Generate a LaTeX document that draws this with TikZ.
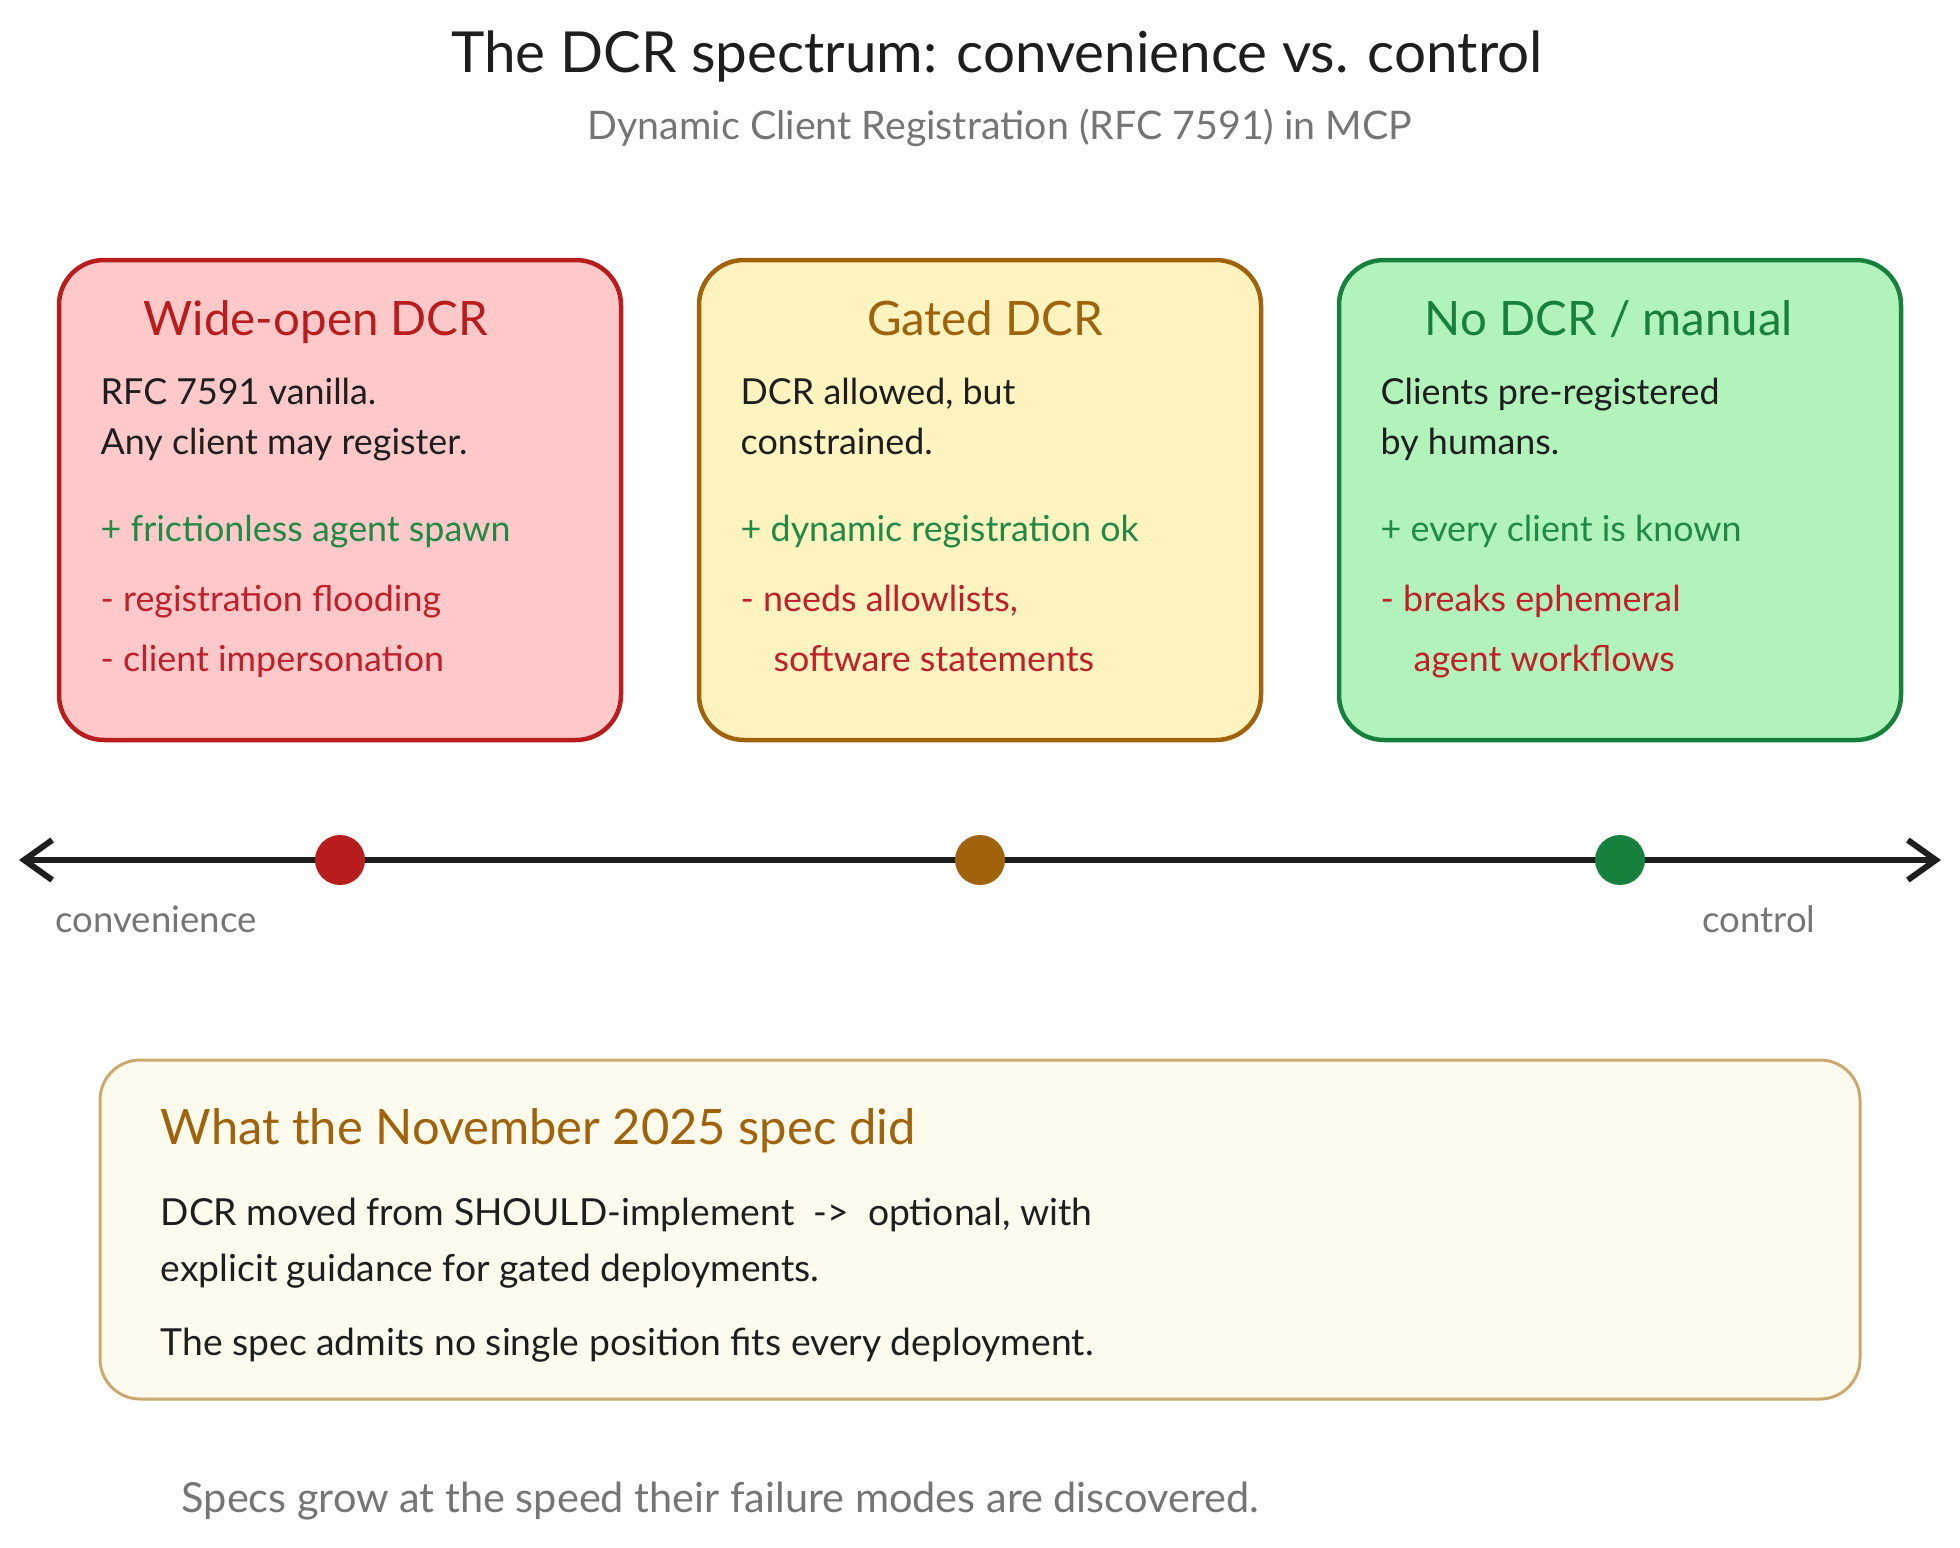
\documentclass[tikz,border=0pt]{standalone}
\usepackage{fontspec}
\setmainfont{Lato}
\usetikzlibrary{arrows.meta,positioning}

\definecolor{inkline}{HTML}{1E1E1E}
\definecolor{redline}{HTML}{B91C1C}
\definecolor{redfill}{HTML}{FFC9C9}
\definecolor{amberline}{HTML}{A0620A}
\definecolor{amberfill}{HTML}{FFF3BF}
\definecolor{greenline}{HTML}{17803D}
\definecolor{greenfill}{HTML}{B2F2BB}
\definecolor{protext}{HTML}{1E8A45}
\definecolor{context}{HTML}{C0202A}
\definecolor{greytext}{HTML}{757575}
\definecolor{noteline}{HTML}{CDA86E}
\definecolor{notefill}{HTML}{FDFBEE}

\tikzstyle{tier} = [rectangle, draw, line width=0.45mm, rounded corners=4.5mm,
minimum width=56.2mm, minimum height=48mm, inner sep=0pt]
\tikzstyle{note} = [rectangle, draw=noteline, fill=notefill, line width=0.3mm, rounded corners=4mm,
minimum width=176mm, minimum height=33.9mm, inner sep=0pt]
\tikzstyle{heading} = [anchor=base, inner sep=0pt, font=\fontsize{13.5}{16}\selectfont]
\tikzstyle{body} = [anchor=base west, inner sep=0pt, text=inkline, font=\fontsize{10.2}{12}\selectfont]
\tikzstyle{pro} = [body, text=protext]
\tikzstyle{con} = [body, text=context]
\tikzstyle{muted} = [inner sep=0pt, text=greytext]
\tikzstyle{dot} = [circle, minimum size=5mm, inner sep=0pt]
\tikzstyle{axis} = [line width=0.6mm, draw=inkline, <->, >={Straight Barb[length=2.8mm,width=4mm]}]

\begin{document}
\begin{tikzpicture}[x=0.1mm, y=-0.1mm]

\useasboundingbox (0,0) rectangle (1960,1548);

% Top
\node[anchor=base, inner sep=0pt, text=inkline, font=\fontsize{16.1}{19}\selectfont](title) at (997,72) {The DCR spectrum: convenience vs. control};
\node[muted, anchor=base, font=\fontsize{11.2}{13}\selectfont](subtitle) at (1000,139) {Dynamic Client Registration (RFC 7591) in MCP};

%Boxes for the three positions
\node[tier, draw=redline, fill=redfill](open) at (340,500) {};
\node[tier, draw=amberline, fill=amberfill](gated) at (980,500) {};
\node[tier, draw=greenline, fill=greenfill](manual) at (1620,500) {};

% Wide-open
\node[heading, text=redline](openhead) at (316,335) {Wide-open DCR};
\node[body](opena) at (100,404) {RFC 7591 vanilla.};
\node[body](openb) at (100,454) {Any client may register.};
\node[pro](openpro) at (100,541) {+ frictionless agent spawn};
\node[con](openconA) at (100,611) {- registration flooding};
\node[con](openconB) at (100,671) {- client impersonation};

% Gated
\node[heading, text=amberline](gatedhead) at (985,335) {Gated DCR};
\node[body](gateda) at (740,404) {DCR allowed, but};
\node[body](gatedb) at (740,454) {constrained.};
\node[pro](gatedpro) at (740,541) {+ dynamic registration ok};
\node[con](gatedconA) at (740,611) {- needs allowlists,};
\node[con](gatedconB) at (773,671) {software statements};

% Manual
\node[heading, text=greenline](manualhead) at (1609,335) {No DCR / manual};
\node[body](manuala) at (1380,404) {Clients pre-registered};
\node[body](manualb) at (1380,454) {by humans.};
\node[pro](manualpro) at (1380,541) {+ every client is known};
\node[con](manualconA) at (1380,611) {- breaks ephemeral};
\node[con](manualconB) at (1413,671) {agent workflows};

%Spectrum axis with the three positions on it
\coordinate (axisL) at (19,860);
\coordinate (axisR) at (1941,860);
\path[axis] (axisL) -- (axisR);
\node[dot, fill=redline](opendot) at (340,860) {};
\node[dot, fill=amberline](gateddot) at (980,860) {};
\node[dot, fill=greenline](manualdot) at (1620,860) {};
\node[muted, anchor=base, font=\fontsize{10.4}{12}\selectfont](convlabel) at (156,932) {convenience};
\node[muted, anchor=base, font=\fontsize{10.4}{12}\selectfont](ctrllabel) at (1759,932) {control};

% What the spec did
\node[note](spec) at (980,1229.5) {};
\node[body, text=amberline, font=\fontsize{13.9}{17}\selectfont](spechead) at (160,1144) {What the November 2025 spec did};
\node[body, font=\fontsize{10.6}{13}\selectfont](speca) at (160,1225) {DCR moved from SHOULD-implement~~->~~optional, with};
\node[body, font=\fontsize{10.6}{13}\selectfont](specb) at (160,1281) {explicit guidance for gated deployments.};
\node[body, font=\fontsize{10.6}{13}\selectfont](specc) at (160,1355) {The spec admits no single position fits every deployment.};

% Footer
\node[muted, anchor=base west, font=\fontsize{11.8}{14}\selectfont](footer) at (181,1512) {Specs grow at the speed their failure modes are discovered.};

\end{tikzpicture}
\end{document}
